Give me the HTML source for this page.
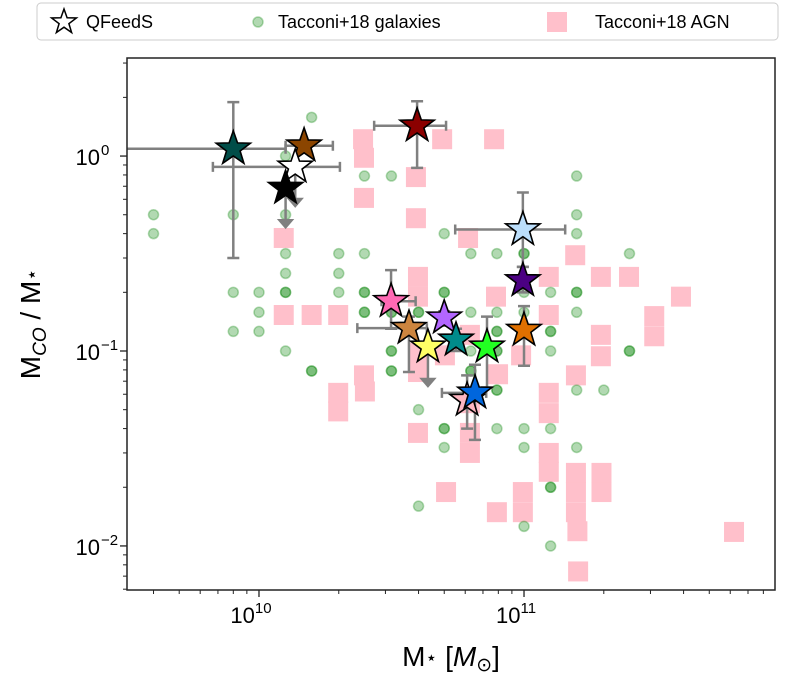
<!DOCTYPE html>
<html><head><meta charset="utf-8"><style>
body{margin:0;background:#fff;}
svg{display:block;font-family:"Liberation Sans","DejaVu Sans",sans-serif;}
</style></head><body>
<svg id="chart" width="785" height="684" viewBox="0 0 785 684" xmlns="http://www.w3.org/2000/svg">
<g id="plot"></g>
<rect x="127" y="58" width="648" height="532" fill="none" stroke="#222" stroke-width="1.5"/>
<g id="axes"></g>
<text x="451" y="666" font-size="28" text-anchor="middle">M<tspan font-size="19" dy="-2">⋆</tspan><tspan dy="2"> [</tspan><tspan font-style="italic">M</tspan><tspan font-size="19" dy="5">⊙</tspan><tspan dy="-5">]</tspan></text>
<text transform="translate(40,324) rotate(-90)" font-size="28" text-anchor="middle">M<tspan font-size="19" font-style="italic" dy="6">CO</tspan><tspan dy="-6"> / M</tspan><tspan font-size="19" dy="-2">⋆</tspan></text>
<g>
<rect x="37" y="3" width="741" height="37" rx="4" fill="#fff" stroke="#ccc" stroke-width="1"/>
<path d="" id="legstar" fill="#fff" stroke="#000" stroke-width="1.5"/>
<text x="86" y="28" font-size="18">QFeedS</text>
<circle cx="258" cy="22" r="5" fill="rgba(0,128,0,0.3)" stroke="rgba(0,128,0,0.3)" stroke-width="1.5"/>
<text x="278" y="28" font-size="18">Tacconi+18 galaxies</text>
<rect x="547" y="12" width="20" height="20" fill="#FFC0CB"/>
<text x="595" y="28" font-size="18">Tacconi+18 AGN</text>
</g>
</svg>
<script>
// masses in units of 1e10 Msun, ratios M_CO/M*
const galMass=[1.58,0.4,0.8,1.26,0.4,2.5,3.16,1.26,5,1.26,2,2.5,1.26,2,0.8,1.0,1.26,1.26,2,2.5,2.5,5,1.0,2.5,2.5,3.16,3.16,4,4,0.8,1.0,1.26,3.16,3.16,1.58,1.58,3.16,3.16,4,5,5,5,4,15.8,15.8,15.8,6.3,7.9,10,10,25,5,10,12.6,15.8,15.8,6.3,7.9,10,15.8,7.9,7.9,12.6,12.6,6.3,7.9,7.9,12.6,25,25,6.3,6.3,7.9,7.9,15.8,20,7.9,10,12.6,10,15.8,12.6,12.6,10,12.6];
const galRatio=[1.58,0.5,0.5,1.0,0.4,0.79,0.79,0.5,0.4,0.316,0.316,0.316,0.25,0.25,0.2,0.2,0.2,0.2,0.2,0.2,0.2,0.2,0.158,0.158,0.158,0.158,0.158,0.158,0.158,0.126,0.126,0.1,0.1,0.1,0.079,0.079,0.079,0.079,0.05,0.04,0.04,0.032,0.016,0.79,0.5,0.4,0.316,0.316,0.316,0.316,0.316,0.2,0.2,0.2,0.2,0.2,0.158,0.158,0.158,0.158,0.126,0.126,0.126,0.126,0.1,0.1,0.1,0.1,0.1,0.1,0.079,0.079,0.063,0.063,0.063,0.063,0.04,0.04,0.04,0.032,0.032,0.02,0.02,0.0126,0.01];
const agnMass=[2.47,2.49,2.49,3.91,3.91,4.91,7.71,1.24,6.15,3.98,3.98,1.24,1.58,1.99,15.6,12.4,19.5,24.9,7.84,39.1,12.4,31.0,31.0,19.5,19.5,6.25,5.03,3.98,3.98,9.75,7.98,15.7,2.49,2.51,1.99,1.99,12.4,12.4,6.25,6.25,6.25,3.98,12.4,12.4,15.7,15.7,15.7,15.9,19.6,19.6,9.9,9.9,7.9,5.08,62,16.0];
const agnRatio=[1.22,0.98,0.61,0.78,0.48,1.22,1.22,0.38,0.38,0.24,0.19,0.153,0.153,0.153,0.31,0.24,0.24,0.24,0.19,0.19,0.153,0.151,0.119,0.121,0.094,0.121,0.095,0.098,0.078,0.095,0.076,0.075,0.075,0.062,0.061,0.049,0.061,0.048,0.054,0.038,0.030,0.038,0.030,0.024,0.0237,0.0189,0.0149,0.0119,0.0237,0.0189,0.0189,0.0149,0.0149,0.0189,0.0118,0.0074];
const qColors=['#004d48','#8B4500','#ffffff','#000000','#8B0000','#BBDEFB','#4B0082','#E07000','#FF69B4','#CD853F','#B266FF','#008B8B','#FFFF66','#22FF22','#FFB6C1','#0066DD'];
const qMass=[0.8,1.48,1.37,1.26,3.95,9.9,9.9,10,3.15,3.68,5,5.54,4.34,7.25,6.1,6.53];
const qRatio=[1.09,1.13,0.88,0.685,1.43,0.42,0.23,0.128,0.18,0.131,0.148,0.114,0.105,0.105,0.056,0.061];
const qMassLo=[0.3,1.26,0.67,null,2.72,5.5,null,null,2.9,2.35,null,null,null,null,null,4.9];
const qMassHi=[1.26,1.9,2.02,null,5.08,14.3,null,null,3.9,4.3,null,null,null,null,null,7.2];
const qRatioLo=[0.30,null,null,null,0.87,0.27,0.2,0.084,0.13,0.078,0.135,0.1,null,0.065,0.04,0.035];
const qRatioHi=[1.89,null,null,null,1.91,0.65,0.27,0.17,0.26,0.15,0.16,0.13,null,0.15,0.075,0.085];
const qUpper=[false,false,true,true,false,false,false,false,false,false,false,false,true,false,false,false];
const xTickVals=[1,10];
const xTickLabels=['10','10'];
const xTickExps=['10','11'];
const yTickVals=[1,0.1,0.01];
const yTickExps=['0','\u22121','\u22122'];

const X0=127,X1=775,Y0=58,Y1=590;
const lxmin=-0.498,lxmax=1.947,lymin=-2.226,lymax=0.503;
function xs(m){return X0+(Math.log10(m)-lxmin)/(lxmax-lxmin)*(X1-X0);}
function ys(r){return Y1-(Math.log10(r)-lymin)/(lymax-lymin)*(Y1-Y0);}
const NS='http://www.w3.org/2000/svg';
function mk(tag,attrs,parent){const e=document.createElementNS(NS,tag);for(const k in attrs)e.setAttribute(k,attrs[k]);parent.appendChild(e);return e;}
function starPath(cx,cy,R){const r=R*0.4;let d='';for(let i=0;i<10;i++){const a=-Math.PI/2+i*Math.PI/5;const rr=i%2?r:R;d+=(i?'L':'M')+(cx+rr*Math.cos(a)).toFixed(1)+','+(cy+rr*Math.sin(a)).toFixed(1);}return d+'Z';}
document.getElementById('legstar').setAttribute('d',starPath(64,22,13));
const plot=document.getElementById('plot');
const clip=mk('clipPath',{id:'cp'},plot);mk('rect',{x:X0,y:Y0,width:X1-X0,height:Y1-Y0},clip);
const g=mk('g',{'clip-path':'url(#cp)'},plot);
for(let i=0;i<agnMass.length;i++){
  const e=mk('rect',{x:xs(agnMass[i])-10,y:ys(agnRatio[i])-10,width:20,height:20,fill:'#FFC0CB'},g);
  
  
}
for(let i=0;i<galMass.length;i++){
  const e=mk('circle',{cx:xs(galMass[i]),cy:ys(galRatio[i]),r:5,fill:'rgba(0,128,0,0.3)',stroke:'rgba(0,128,0,0.3)','stroke-width':1.5},g);
  
  
}
const eg=mk('g',{stroke:'#808080','stroke-width':2.5,fill:'none'},g);
for(let i=0;i<qMass.length;i++){
  const cx=xs(qMass[i]),cy=ys(qRatio[i]);
  if(qMassLo[i]!==null){
    const a=xs(qMassLo[i]),b=xs(qMassHi[i]);
    const e=mk('path',{d:`M${a},${cy}H${b}M${a},${cy-5}V${cy+5}M${b},${cy-5}V${cy+5}`},eg);
    
    
  }
  if(qRatioLo[i]!==null){
    const a=ys(qRatioHi[i]),b=ys(qRatioLo[i]);
    const e=mk('path',{d:`M${cx},${a}V${b}M${cx-6},${a}H${cx+6}M${cx-6},${b}H${cx+6}`},eg);
    
    
  }
  if(qUpper[i]){
    const b=ys(qRatio[i]*0.63);
    const e=mk('path',{d:`M${cx},${cy}V${b-6}M${cx-6},${b-7}L${cx+6},${b-7}L${cx},${b}Z`,fill:'#808080'},eg);
    
    
  }
}
for(let i=0;i<qMass.length;i++){
  const e=mk('path',{d:starPath(xs(qMass[i]),ys(qRatio[i]),18),fill:qColors[i],stroke:'#000','stroke-width':1.6,'stroke-linejoin':'miter'},g);
  
  
}
const ax=document.getElementById('axes');
for(let d=-1;d<=2;d++){for(let k=1;k<10;k++){const v=Math.pow(10,d)*k;const x=xs(v);if(x<X0||x>X1)continue;
  const t=mk('line',{x1:x,x2:x,y1:Y1,y2:Y1+(k===1?7:4),stroke:'#222','stroke-width':k===1?1.3:1},ax);
  
  }}
for(let d=-3;d<=1;d++){for(let k=1;k<10;k++){const v=Math.pow(10,d)*k;const y=ys(v);if(y<Y0||y>Y1)continue;
  const t=mk('line',{x1:X0,x2:X0-(k===1?7:4),y1:y,y2:y,stroke:'#222','stroke-width':k===1?1.3:1},ax);
  
  }}
for(let i=0;i<xTickVals.length;i++){
  const t=mk('text',{x:xs(xTickVals[i])-8,y:623,'font-size':22,'text-anchor':'middle'},ax);
  
  
  t.textContent=xTickLabels[i];
  const s=mk('tspan',{'font-size':15,dy:-10},t);s.textContent=xTickExps[i];
}
for(let i=0;i<yTickVals.length;i++){
  const t=mk('text',{x:100,y:ys(yTickVals[i])+9,'font-size':22,'text-anchor':'end'},ax);
  
  
  t.textContent='10';
  const s=mk('tspan',{'font-size':15,dy:-10,x:101,'text-anchor':'start'},t);s.textContent=yTickExps[i];
}
</script>
</body></html>
